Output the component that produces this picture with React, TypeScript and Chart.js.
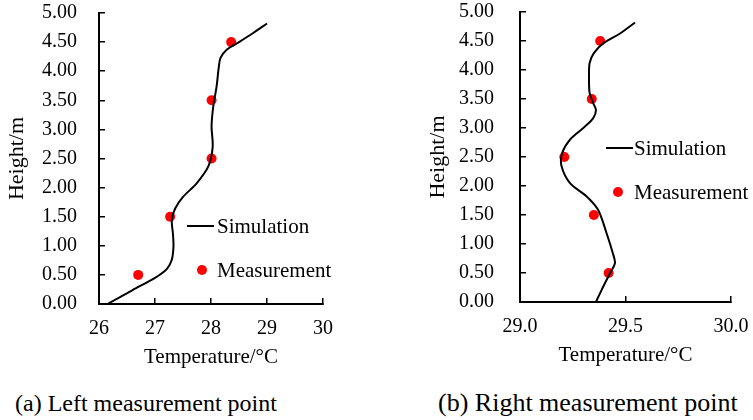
import React, { useEffect, useRef } from "react";
import { Chart, registerables } from "chart.js";

Chart.register(...registerables);

// ---------- data ----------
const measHeights = [0.5, 1.5, 2.5, 3.5, 4.5];

const leftSimTemp = [26.15, 26.6, 27.0, 27.21, 27.3, 27.33, 27.32, 27.3, 27.36, 27.5, 27.74, 27.95, 28.03, 28.01, 28.04, 28.1, 28.14, 28.17, 28.28, 28.5, 28.76, 29.0];
const leftSimHeight = [0, 0.24, 0.45, 0.6, 0.76, 0.99, 1.21, 1.44, 1.64, 1.84, 2.07, 2.36, 2.7, 3.05, 3.39, 3.74, 4.08, 4.23, 4.37, 4.5, 4.66, 4.82];
const leftMeasTemp = [26.7, 27.27, 28.01, 28.01, 28.36];

const rightSimTemp = [29.36, 29.387, 29.427, 29.45, 29.44, 29.41, 29.37, 29.316, 29.237, 29.197, 29.2, 29.237, 29.3, 29.347, 29.36, 29.347, 29.33, 29.327, 29.33, 29.35, 29.395, 29.474, 29.545];
const rightSimHeight = [0, 0.21, 0.5, 0.67, 0.84, 1.19, 1.59, 1.82, 2.05, 2.34, 2.57, 2.8, 3.0, 3.17, 3.31, 3.43, 3.6, 3.89, 4.12, 4.29, 4.46, 4.63, 4.82];
const rightMeasTemp = [29.42, 29.35, 29.21, 29.34, 29.38];

const seriesNames = ["Simulation", "Measurement"];
const xTitle = "Temperature/°C";
const yTitle = "Height/m";
const captions = ["(a) Left measurement point", "(b) Right measurement point"];

const FONT = "'Liberation Serif', 'Times New Roman', serif";

const legendPlugin = {
  id: "posLegend",
  afterDraw(chart: any, _args: any, opts: any) {
    const ctx = chart.ctx;
    const items = opts.items || [];
    ctx.save();
    ctx.font = `${opts.fontSize}px ${FONT}`;
    ctx.textBaseline = "middle";
    ctx.textAlign = "left";
    chart.data.datasets.forEach((ds: any, i: number) => {
      const it = items[i];
      if (!it) return;
      if (ds.showLine) {
        ctx.strokeStyle = ds.borderColor;
        ctx.lineWidth = ds.borderWidth;
        ctx.beginPath();
        ctx.moveTo(it.x, it.y);
        ctx.lineTo(it.x + it.w, it.y);
        ctx.stroke();
      } else {
        ctx.fillStyle = ds.backgroundColor;
        ctx.beginPath();
        ctx.arc(it.x + it.w / 2, it.y, ds.pointRadius, 0, Math.PI * 2);
        ctx.fill();
      }
      ctx.fillStyle = "#000";
      ctx.fillText(ds.label, it.tx, it.y + 1);
    });
    ctx.restore();
  },
};

type Cfg = {
  simT: number[];
  simH: number[];
  measT: number[];
  xMin: number;
  xMax: number;
  xStep: number;
  xDec: number;
  width: number;
  height: number;
  areaLeft: number;
  areaRight: number;
  areaTop: number;
  areaBottom: number;
  yPad: number;
  legend: any[];
};

function ChartPanel({ cfg, left }: { cfg: Cfg; left: number }) {
  const ref = useRef<HTMLCanvasElement>(null);
  useEffect(() => {
    if (!ref.current) return;
    const sim = cfg.simT.map((t, i) => ({ x: t, y: cfg.simH[i] }));
    const meas = cfg.measT.map((t, i) => ({ x: t, y: measHeights[i] }));
    const tickFont = { family: FONT, size: 20 };
    const chart = new Chart(ref.current, {
      type: "scatter",
      data: {
        datasets: [
          {
            label: seriesNames[0],
            data: sim,
            showLine: true,
            borderColor: "#000",
            backgroundColor: "#000",
            borderWidth: 2,
            pointRadius: 0,
            tension: 0.3,
          },
          {
            label: seriesNames[1],
            data: meas,
            showLine: false,
            borderColor: "#ff0000",
            backgroundColor: "#ff0000",
            pointRadius: 5,
            pointBorderWidth: 0,
          },
        ],
      } as any,
      options: {
        animation: false,
        responsive: false,
        maintainAspectRatio: false,
        layout: {
          padding: { left: 0, right: cfg.width - cfg.areaRight, top: cfg.areaTop, bottom: 0 },
        },
        plugins: {
          legend: { display: false },
          tooltip: { enabled: false },
          posLegend: { items: cfg.legend, fontSize: 21 },
        } as any,
        scales: {
          x: {
            type: "linear",
            min: cfg.xMin,
            max: cfg.xMax,
            afterFit: (s: any) => {
              s.height = cfg.height - cfg.areaBottom;
              s.paddingLeft = 0;
              s.paddingRight = 0;
              s.paddingTop = 0;
              s.paddingBottom = 0;
            },
            ticks: {
              stepSize: cfg.xStep,
              color: "#000",
              font: tickFont,
              padding: 19,
              autoSkip: false,
              maxRotation: 0,
              callback: (v: any) => Number(v).toFixed(cfg.xDec),
            },
            grid: {
              display: true,
              drawOnChartArea: false,
              drawTicks: true,
              tickLength: -6,
              color: "#000",
              lineWidth: 1.5,
            },
            border: { display: true, color: "#000", width: 2 },
            title: {
              display: true,
              text: xTitle,
              color: "#000",
              font: { family: FONT, size: 21 },
              padding: { top: 4, bottom: 4 },
            },
          },
          y: {
            type: "linear",
            min: 0,
            max: 5,
            afterFit: (s: any) => {
              s.width = cfg.areaLeft;
              s.paddingLeft = 0;
              s.paddingRight = 0;
              s.paddingTop = 0;
              s.paddingBottom = 0;
            },
            ticks: {
              stepSize: 0.5,
              color: "#000",
              font: tickFont,
              padding: cfg.yPad,
              autoSkip: false,
              callback: (v: any) => Number(v).toFixed(2),
            },
            grid: {
              display: true,
              drawOnChartArea: false,
              drawTicks: true,
              tickLength: -6,
              color: "#000",
              lineWidth: 1.5,
            },
            border: { display: true, color: "#000", width: 2 },
            title: {
              display: true,
              text: yTitle,
              color: "#000",
              font: { family: FONT, size: 22 },
              padding: { top: 4, bottom: 4 },
            },
          },
        },
      } as any,
      plugins: [legendPlugin],
    });
    return () => chart.destroy();
  }, [cfg]);
  return (
    <canvas
      ref={ref}
      width={cfg.width}
      height={cfg.height}
      style={{ position: "absolute", left, top: 0, width: cfg.width, height: cfg.height }}
    />
  );
}

const leftCfg: Cfg = {
  simT: leftSimTemp,
  simH: leftSimHeight,
  measT: leftMeasTemp,
  xMin: 26,
  xMax: 30,
  xStep: 1,
  xDec: 0,
  width: 376,
  height: 374,
  areaLeft: 99,
  areaRight: 323,
  areaTop: 13,
  areaBottom: 304,
  yPad: 28,
  legend: [
    { x: 187, y: 226, w: 27, tx: 217 },
    { x: 189, y: 270, w: 26, tx: 217 },
  ],
};

const rightCfg: Cfg = {
  simT: rightSimTemp,
  simH: rightSimHeight,
  measT: rightMeasTemp,
  xMin: 29,
  xMax: 30,
  xStep: 0.5,
  xDec: 1,
  width: 332,
  height: 372,
  areaLeft: 99,
  areaRight: 310,
  areaTop: 12,
  areaBottom: 302,
  yPad: 32,
  legend: [
    { x: 185, y: 148, w: 27, tx: 213 },
    { x: 184, y: 192, w: 26, tx: 213 },
  ],
};

export default function App() {
  return (
    <div
      style={{
        position: "fixed",
        left: 0,
        top: 0,
        width: 753,
        height: 420,
        background: "#fff",
        overflow: "hidden",
        fontFamily: FONT,
      }}
    >
      <ChartPanel cfg={leftCfg} left={0} />
      <ChartPanel cfg={rightCfg} left={421} />
      <div style={{ position: "absolute", left: 15, top: 391, fontSize: 24, lineHeight: "24px", color: "#000", whiteSpace: "nowrap" }}>
        {captions[0]}
      </div>
      <div style={{ position: "absolute", left: 438, top: 390, fontSize: 26, lineHeight: "26px", color: "#000", whiteSpace: "nowrap" }}>
        {captions[1]}
      </div>
    </div>
  );
}
